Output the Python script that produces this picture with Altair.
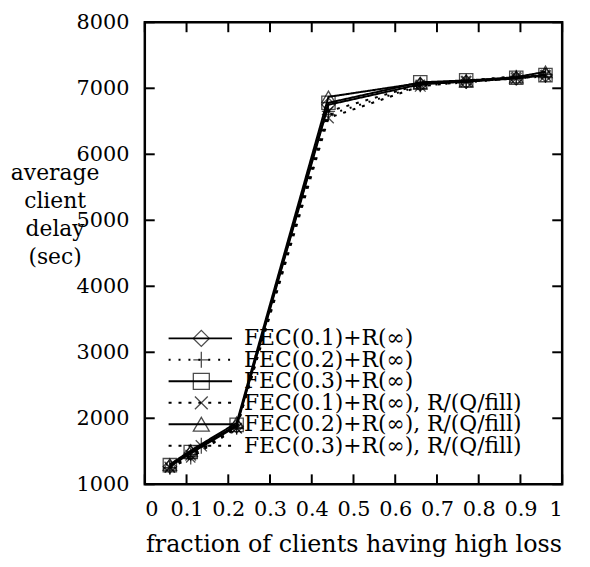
import altair as alt
import pandas as pd

# ---- data ----
series = [
    "FEC(0.1)+R(∞)",
    "FEC(0.2)+R(∞)",
    "FEC(0.3)+R(∞)",
    "FEC(0.1)+R(∞), R/(Q/fill)",
    "FEC(0.2)+R(∞), R/(Q/fill)",
    "FEC(0.3)+R(∞), R/(Q/fill)",
]
x_vals = [0.06, 0.11, 0.22, 0.44, 0.66, 0.77, 0.89, 0.96]
s1 = [1270, 1470, 1880, 6750, 7060, 7100, 7150, 7200]
s2 = [1250, 1450, 1860, 6600, 7040, 7090, 7150, 7180]
s3 = [1290, 1490, 1900, 6780, 7090, 7120, 7160, 7200]
s4 = [1260, 1440, 1850, 6550, 7030, 7100, 7150, 7190]
s5 = [1300, 1510, 1930, 6870, 7080, 7110, 7170, 7250]
s6 = [1250, 1400, 1850, 6650, 7060, 7120, 7180, 7210]
x_ticks = [0, 0.1, 0.2, 0.3, 0.4, 0.5, 0.6, 0.7, 0.8, 0.9, 1]
y_ticks = [1000, 2000, 3000, 4000, 5000, 6000, 7000, 8000]

rows = []
for name, vals in zip(series, [s1, s2, s3, s4, s5, s6]):
    for x, y in zip(x_vals, vals):
        rows.append({"series": name, "x": x, "y": y})
df = pd.DataFrame(rows)
leg_df = pd.DataFrame({"series": series})
xt_df = pd.DataFrame({"v": x_ticks})
yt_df = pd.DataFrame({"v": y_ticks})

# ---- styles ----
W, H = 421, 466
FONT = "DejaVu Serif"
shapes = [
    "diamond",
    "M-1,0L1,0M0,-1L0,1",
    "square",
    "M-0.8,-0.8L0.8,0.8M-0.8,0.8L0.8,-0.8",
    "triangle-up",
    "M-1,0L1,0M0,-1L0,1M-0.7,-0.7L0.7,0.7M-0.7,0.7L0.7,-0.7",
]
dashes = [[1, 0], [2, 8], [1, 0], [3, 7], [1, 0], [3, 7]]
widths = [2, 2, 2.5, 3, 4, 3]

shape_scale = alt.Scale(domain=series, range=shapes)
dash_scale = alt.Scale(domain=series, range=dashes)
width_scale = alt.Scale(domain=series, range=widths)

xs = alt.Scale(domain=[0, 1], nice=False, zero=False)
ys = alt.Scale(domain=[1000, 8000], nice=False, zero=False)

x_enc = alt.X(
    "x:Q", scale=xs,
    axis=alt.Axis(
        values=x_ticks, format="~g", title="fraction of clients having high loss",
        ticks=False, domain=False, grid=False, labelPadding=14,
        labelFont=FONT, labelFontSize=21, labelColor="black",
        titleFont=FONT, titleFontSize=24, titleFontWeight="normal", titleColor="black",
        titleY=61, titleBaseline="middle",
    ),
)
y_enc = alt.Y(
    "y:Q", scale=ys,
    axis=alt.Axis(
        values=y_ticks, format="d", title=["average", "client", "delay", "(sec)"],
        ticks=False, domain=False, grid=False, labelPadding=16,
        labelFont=FONT, labelFontSize=21, labelColor="black",
        titleFont=FONT, titleFontSize=22, titleFontWeight="normal", titleColor="black",
        titleAngle=0, titleAlign="center", titleBaseline="top",
        titleX=-91, titleY=142, titleLineHeight=28,
    ),
)

lines = alt.Chart(df).mark_line(color="black").encode(
    x=x_enc, y=y_enc,
    strokeDash=alt.StrokeDash("series:N", scale=dash_scale, legend=None),
    strokeWidth=alt.StrokeWidth("series:N", scale=width_scale, legend=None),
    detail="series:N",
)
points = alt.Chart(df).mark_point(filled=False, color="black", size=180, strokeWidth=1.3).encode(
    x=alt.X("x:Q", scale=xs), y=alt.Y("y:Q", scale=ys),
    shape=alt.Shape("series:N", scale=shape_scale, legend=None),
)

tick_len = 10
bot_ticks = alt.Chart(xt_df).mark_rule(color="black", strokeWidth=2).encode(
    x=alt.X("v:Q", scale=xs), y=alt.value(H), y2=alt.value(H - tick_len))
top_ticks = alt.Chart(xt_df).mark_rule(color="black", strokeWidth=2).encode(
    x=alt.X("v:Q", scale=xs), y=alt.value(0), y2=alt.value(tick_len))
left_ticks = alt.Chart(yt_df).mark_rule(color="black", strokeWidth=2).encode(
    y=alt.Y("v:Q", scale=ys), x=alt.value(0), x2=alt.value(tick_len))
right_ticks = alt.Chart(yt_df).mark_rule(color="black", strokeWidth=2).encode(
    y=alt.Y("v:Q", scale=ys), x=alt.value(W), x2=alt.value(W - tick_len))

main = alt.layer(lines, points, bot_ticks, top_ticks, left_ticks, right_ticks)

# ---- key (legend) drawn inside plot ----
leg_y = alt.Y("series:N", sort=series, axis=None,
              scale=alt.Scale(type="point", domain=series, range=[308, 438]))
leg_lines = alt.Chart(leg_df).mark_rule(color="black").encode(
    y=leg_y, x=alt.value(24), x2=alt.value(88),
    strokeDash=alt.StrokeDash("series:N", scale=dash_scale, legend=None),
    strokeWidth=alt.StrokeWidth("series:N", scale=width_scale, legend=None),
)
leg_pts = alt.Chart(leg_df).mark_point(filled=False, color="black", size=260, strokeWidth=1.3).encode(
    y=leg_y, x=alt.value(57),
    shape=alt.Shape("series:N", scale=shape_scale, legend=None),
)
leg_text = alt.Chart(leg_df).mark_text(
    align="left", baseline="middle", font=FONT, fontSize=22, color="black"
).encode(y=leg_y, x=alt.value(100), text="series:N")
legend = alt.layer(leg_lines, leg_pts, leg_text)

chart = alt.layer(main, legend).resolve_scale(y="independent").properties(
    width=W, height=H,
    autosize=alt.AutoSizeParams(type="none"),
    padding={"left": 138, "top": 12, "right": 20, "bottom": 78},
).configure_view(stroke="black", strokeWidth=2.5)

chart.save("out.html", embed_options={"renderer": "svg", "actions": False})
